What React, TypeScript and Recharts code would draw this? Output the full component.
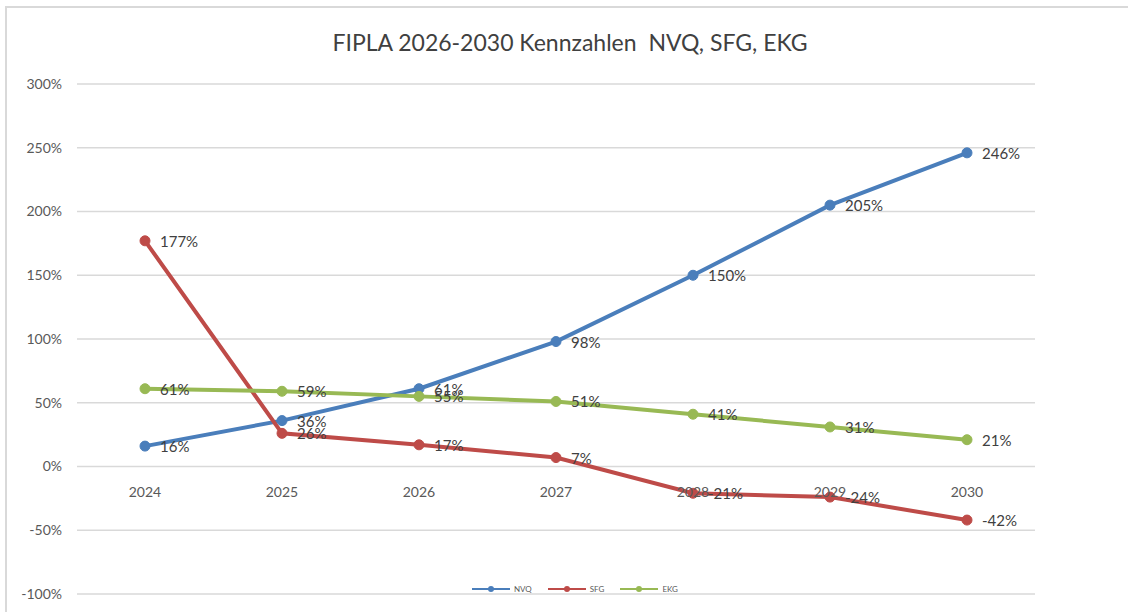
import React from 'react'
import { LineChart, Line, XAxis, YAxis, CartesianGrid, LabelList } from 'recharts'

const years = ['2024', '2025', '2026', '2027', '2028', '2029', '2030']
const nvq = [16, 36, 61, 98, 150, 205, 246]
const sfg = [177, 26, 17, 7, -21, -24, -42]
const ekg = [61, 59, 55, 51, 41, 31, 21]
const yTicks = [-100, -50, 0, 50, 100, 150, 200, 250, 300]

const series = [
  { key: 'NVQ', color: '#4A7EBB' },
  { key: 'SFG', color: '#BE4B48' },
  { key: 'EKG', color: '#98B954' }
]

const data = years.map((year, i) => ({
  year,
  NVQ: nvq[i],
  SFG: sfg[i],
  EKG: ekg[i]
}))

const W = 1128
const H = 612
const TOP = 84
const PLOT_H = 510
const FONT = 'Lato, "Open Sans", sans-serif'

// x labels sit on the 0% line, not at the bottom of the plot
const zeroShift = PLOT_H * (100 / 400)

function YearTick(props: any) {
  const { x, y, payload } = props
  return (
    <text x={x} y={y - zeroShift + 30} textAnchor="middle" fontSize={14} fill="#595959" fontFamily={FONT}>
      {payload.value}
    </text>
  )
}

function PointLabel(props: any) {
  const { x, y, value } = props
  return (
    <text x={x + 15} y={y + 6} fontSize={15} fill="#404040" fontFamily={FONT}>
      {value}%
    </text>
  )
}

export default function App() {
  return (
    <div style={{ position: 'absolute', left: 0, top: 0, width: W, height: H, background: '#fff', overflow: 'hidden' }}>
      <div
        style={{
          position: 'absolute',
          left: 5,
          top: 6,
          right: -2,
          bottom: -2,
          borderTop: '2px solid #d9d9d9',
          borderLeft: '2px solid #d9d9d9'
        }}
      />
      <div
        style={{
          position: 'absolute',
          left: 0,
          top: 28,
          width: 1140,
          textAlign: 'center',
          fontFamily: FONT,
          fontSize: 23,
          color: '#404040',
          whiteSpace: 'pre'
        }}
      >
        {'FIPLA 2026-2030 Kennzahlen  NVQ, SFG, EKG'}
      </div>
      <LineChart
        width={W}
        height={H}
        data={data}
        margin={{ top: TOP, right: 93, left: 7, bottom: 0 }}
        style={{ position: 'absolute', left: 0, top: 0 }}
      >
        <CartesianGrid vertical={false} stroke="#d9d9d9" strokeWidth={1.5} />
        <XAxis
          dataKey="year"
          height={H - TOP - PLOT_H}
          axisLine={false}
          tickLine={false}
          tick={<YearTick />}
          tickSize={0}
          tickMargin={0}
          padding={{ left: 68, right: 68 }}
        />
        <YAxis
          width={70}
          domain={[-100, 300]}
          ticks={yTicks}
          axisLine={false}
          tickLine={false}
          tickSize={0}
          tickMargin={15}
          tickFormatter={(v) => `${v}%`}
          tick={{ fontSize: 14, fill: '#595959', fontFamily: FONT }}
        />
        {series.map((s) => (
          <Line
            key={s.key}
            dataKey={s.key}
            type="linear"
            stroke={s.color}
            strokeWidth={4}
            dot={{ r: 5, fill: s.color, stroke: s.color, strokeWidth: 1 }}
            isAnimationActive={false}
          >
            <LabelList dataKey={s.key} content={<PointLabel />} />
          </Line>
        ))}
      </LineChart>
      <div
        style={{
          position: 'absolute',
          left: 472,
          top: 584,
          display: 'flex',
          alignItems: 'center',
          fontFamily: FONT,
          fontSize: 8,
          color: '#595959'
        }}
      >
        {series.map((s) => (
          <div key={s.key} style={{ display: 'flex', alignItems: 'center', marginRight: 16 }}>
            <svg width={38} height={10}>
              <line x1={0} y1={5} x2={38} y2={5} stroke={s.color} strokeWidth={2} />
              <circle cx={19} cy={5} r={3} fill={s.color} />
            </svg>
            <span style={{ marginLeft: 4 }}>{s.key}</span>
          </div>
        ))}
      </div>
    </div>
  )
}
